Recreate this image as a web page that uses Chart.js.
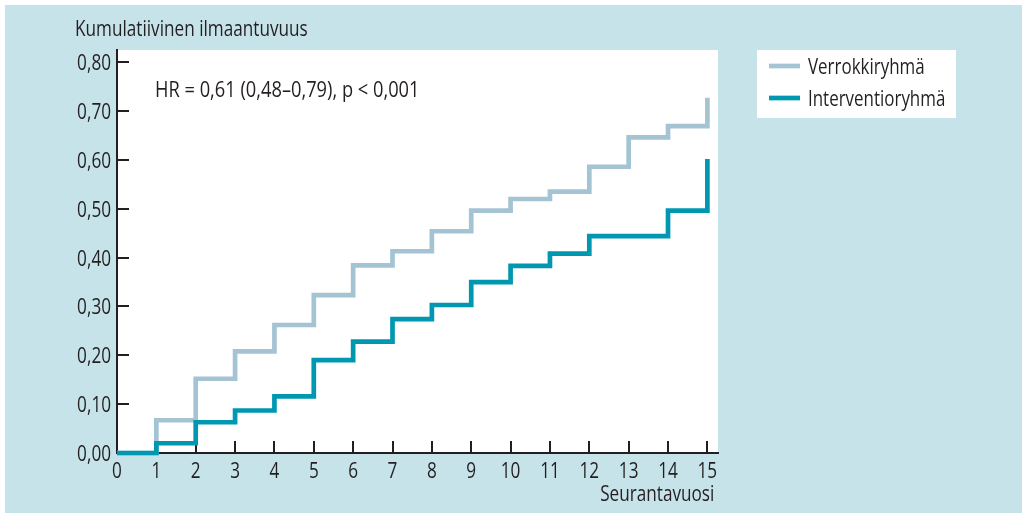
<!DOCTYPE html>
<html>
<head>
<meta charset="utf-8">
<script src="https://cdn.jsdelivr.net/npm/chart.js@4.4.1/dist/chart.umd.min.js"></script>
<style>
  html, body { margin: 0; padding: 0; background: #ffffff; }
  canvas { display: block; }
</style>
</head>
<body>
<canvas id="chart" width="1022" height="513"></canvas>
<script>
// Follow-up years (x) and cumulative incidence per group
const years = [0, 1, 2, 3, 4, 5, 6, 7, 8, 9, 10, 11, 12, 13, 14, 15];
const verrokki = [0, 0.067, 0.152, 0.208, 0.262, 0.323, 0.384, 0.413, 0.454, 0.496, 0.520, 0.535, 0.586, 0.646, 0.669, 0.727];
const interventio = [0, 0.020, 0.063, 0.087, 0.116, 0.190, 0.228, 0.274, 0.303, 0.350, 0.383, 0.408, 0.444, 0.444, 0.496, 0.602];

const seriesNames = ['Verrokkiryhmä', 'Interventioryhmä'];
const xTickValues = [0, 1, 2, 3, 4, 5, 6, 7, 8, 9, 10, 11, 12, 13, 14, 15];
const yTickValues = [0, 0.1, 0.2, 0.3, 0.4, 0.5, 0.6, 0.7, 0.8];

const yTitle = 'Kumulatiivinen ilmaantuvuus';
const xTitle = 'Seurantavuosi';
const hrText = 'HR = 0,61 (0,48–0,79), p < 0,001';

const FONT = "'Open Sans', 'Noto Sans', sans-serif";
const FONT_SIZE = 22;
const SQUEEZE = 0.78;          // narrow the lettering horizontally
const INK = '#231f20';
const BG = '#c6e3ea';
const GREY = '#a5c4d3';
const TEAL = '#0098b1';

const fmt = v => v.toFixed(2).replace('.', ',');

// condensed text: draws at (x, baseline y) with the given alignment
function narrowText(ctx, text, x, y, align, squeeze = SQUEEZE) {
  ctx.save();
  ctx.translate(x, y);
  ctx.scale(squeeze, 1);
  ctx.textAlign = align;
  ctx.textBaseline = 'alphabetic';
  ctx.fillText(text, 0, 0);
  ctx.restore();
}

// Panel background, white plot field, inward ticks, labels, titles and legend
const decorations = {
  id: 'decorations',
  beforeDraw(chart) {
    const { ctx, chartArea: a } = chart;
    ctx.save();
    ctx.fillStyle = '#ffffff';
    ctx.fillRect(0, 0, chart.width, chart.height);
    ctx.fillStyle = BG;
    ctx.fillRect(5, 5, chart.width - 5, chart.height - 5);
    ctx.fillStyle = '#ffffff';
    ctx.fillRect(a.left, a.top, a.right - a.left, a.bottom - a.top);
    ctx.restore();
  },
  beforeDatasetsDraw(chart) {
    const { ctx, chartArea: a, scales: { x, y } } = chart;
    ctx.save();
    ctx.strokeStyle = INK;
    ctx.lineWidth = 2;
    ctx.beginPath();
    y.ticks.forEach(t => {
      const py = Math.round(y.getPixelForValue(t.value));
      ctx.moveTo(a.left, py);
      ctx.lineTo(a.left + 12, py);
    });
    x.ticks.forEach(t => {
      const px = Math.round(x.getPixelForValue(t.value));
      ctx.moveTo(px, a.bottom);
      ctx.lineTo(px, a.bottom - 12);
    });
    ctx.stroke();
    ctx.restore();
  },
  afterDraw(chart) {
    const { ctx, chartArea: a, scales: { x, y } } = chart;
    ctx.save();
    ctx.fillStyle = INK;
    ctx.font = `${FONT_SIZE}px ${FONT}`;

    // tick labels
    y.ticks.forEach(t => {
      narrowText(ctx, fmt(t.value), a.left - 6, y.getPixelForValue(t.value) + 8, 'right');
    });
    x.ticks.forEach(t => {
      narrowText(ctx, String(t.value), x.getPixelForValue(t.value), 478, 'center');
    });

    // titles and annotation
    narrowText(ctx, yTitle, 75, 36, 'left');
    narrowText(ctx, hrText, 155, 97, 'left', 0.83);
    narrowText(ctx, xTitle, x.getPixelForValue(15) + 7, 501, 'right');

    // legend
    ctx.fillStyle = '#ffffff';
    ctx.fillRect(757, 50, 199, 68);
    chart.data.datasets.forEach((ds, i) => {
      const cy = 66 + i * 32;
      ctx.strokeStyle = ds.borderColor;
      ctx.lineWidth = ds.borderWidth;
      ctx.beginPath();
      ctx.moveTo(769, cy);
      ctx.lineTo(800, cy);
      ctx.stroke();
      ctx.fillStyle = INK;
      narrowText(ctx, ds.label, 808, cy + 8, 'left', 0.77);
    });
    ctx.restore();
  }
};

const toPoints = vals => years.map((yr, i) => ({ x: yr, y: vals[i] }));

const lineStyle = {
  borderWidth: 4.7,
  stepped: 'before',
  pointRadius: 0,
  borderJoinStyle: 'miter',
  borderCapStyle: 'butt',
  fill: false,
  clip: 6
};

new Chart(document.getElementById('chart'), {
  type: 'line',
  data: {
    datasets: [
      Object.assign({ label: seriesNames[0], data: toPoints(verrokki), borderColor: GREY, order: 1 }, lineStyle),
      Object.assign({ label: seriesNames[1], data: toPoints(interventio), borderColor: TEAL, order: 0 }, lineStyle)
    ]
  },
  options: {
    responsive: false,
    animation: false,
    devicePixelRatio: 1,
    layout: { padding: { left: 0, top: 50, right: 304, bottom: 0 } },
    plugins: {
      legend: { display: false },
      tooltip: { enabled: false },
      title: { display: false }
    },
    scales: {
      x: {
        type: 'linear',
        min: 0,
        max: 15.27,
        afterFit(s) { s.height = 60; },
        afterBuildTicks(s) { s.ticks = xTickValues.map(v => ({ value: v })); },
        grid: { display: false, drawTicks: false },
        border: { display: true, color: INK, width: 2 },
        ticks: { display: false, autoSkip: false, maxRotation: 0 }
      },
      y: {
        type: 'linear',
        min: 0,
        max: 0.825,
        afterFit(s) { s.width = 117; },
        afterBuildTicks(s) { s.ticks = yTickValues.map(v => ({ value: v })); },
        grid: { display: false, drawTicks: false },
        border: { display: true, color: INK, width: 2 },
        ticks: { display: false }
      }
    }
  },
  plugins: [decorations]
});
</script>
</body>
</html>
